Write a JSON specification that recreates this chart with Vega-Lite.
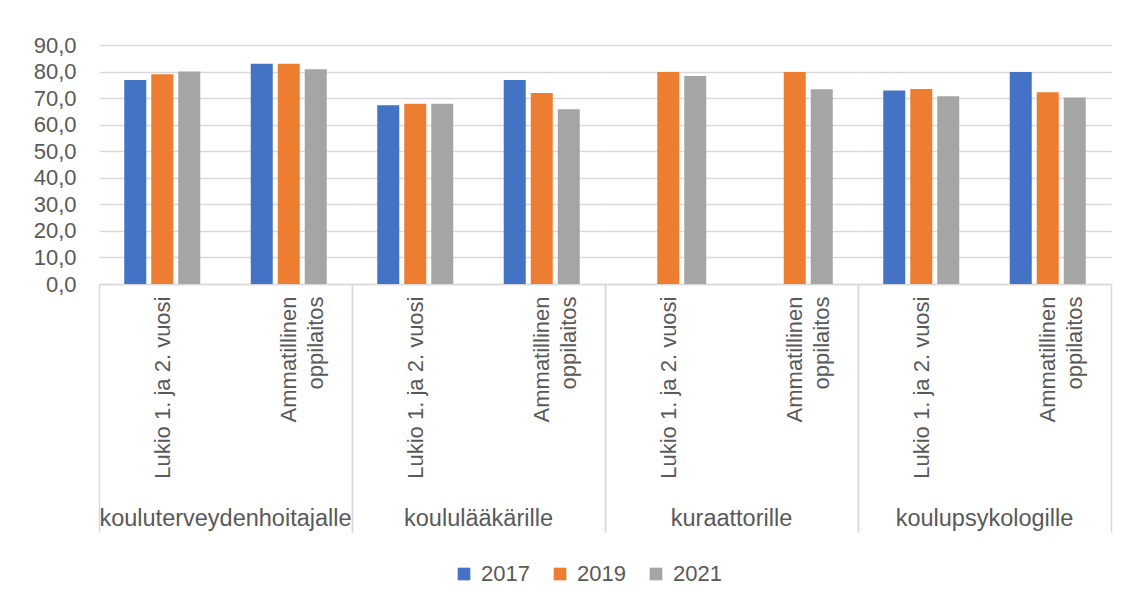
{
  "$schema": "https://vega.github.io/schema/vega-lite/v6.json",
  "padding": {"left": 33, "top": 34, "right": 14, "bottom": 10},
  "background": "white",
  "data": {"values": [
    {"group": "kouluterveydenhoitajalle", "sub": "Lukio 1. ja 2. vuosi", "year": "2017", "value": 76.8},
    {"group": "kouluterveydenhoitajalle", "sub": "Lukio 1. ja 2. vuosi", "year": "2019", "value": 79.0},
    {"group": "kouluterveydenhoitajalle", "sub": "Lukio 1. ja 2. vuosi", "year": "2021", "value": 80.0},
    {"group": "kouluterveydenhoitajalle", "sub": "Ammatillinen|oppilaitos", "year": "2017", "value": 82.9},
    {"group": "kouluterveydenhoitajalle", "sub": "Ammatillinen|oppilaitos", "year": "2019", "value": 82.9},
    {"group": "kouluterveydenhoitajalle", "sub": "Ammatillinen|oppilaitos", "year": "2021", "value": 80.9},
    {"group": "koululääkärille", "sub": "Lukio 1. ja 2. vuosi", "year": "2017", "value": 67.3},
    {"group": "koululääkärille", "sub": "Lukio 1. ja 2. vuosi", "year": "2019", "value": 67.9},
    {"group": "koululääkärille", "sub": "Lukio 1. ja 2. vuosi", "year": "2021", "value": 67.9},
    {"group": "koululääkärille", "sub": "Ammatillinen|oppilaitos", "year": "2017", "value": 76.8},
    {"group": "koululääkärille", "sub": "Ammatillinen|oppilaitos", "year": "2019", "value": 71.9},
    {"group": "koululääkärille", "sub": "Ammatillinen|oppilaitos", "year": "2021", "value": 65.8},
    {"group": "kuraattorille", "sub": "Lukio 1. ja 2. vuosi", "year": "2019", "value": 79.8},
    {"group": "kuraattorille", "sub": "Lukio 1. ja 2. vuosi", "year": "2021", "value": 78.3},
    {"group": "kuraattorille", "sub": "Ammatillinen|oppilaitos", "year": "2019", "value": 79.8},
    {"group": "kuraattorille", "sub": "Ammatillinen|oppilaitos", "year": "2021", "value": 73.3},
    {"group": "koulupsykologille", "sub": "Lukio 1. ja 2. vuosi", "year": "2017", "value": 72.9},
    {"group": "koulupsykologille", "sub": "Lukio 1. ja 2. vuosi", "year": "2019", "value": 73.4},
    {"group": "koulupsykologille", "sub": "Lukio 1. ja 2. vuosi", "year": "2021", "value": 70.7},
    {"group": "koulupsykologille", "sub": "Ammatillinen|oppilaitos", "year": "2017", "value": 79.8},
    {"group": "koulupsykologille", "sub": "Ammatillinen|oppilaitos", "year": "2019", "value": 72.2},
    {"group": "koulupsykologille", "sub": "Ammatillinen|oppilaitos", "year": "2021", "value": 70.2}
  ]},
  "facet": {
    "column": {
      "field": "group", "type": "nominal",
      "sort": ["kouluterveydenhoitajalle", "koululääkärille", "kuraattorille", "koulupsykologille"],
      "title": null,
      "header": {"labelOrient": "bottom", "labelFont": "Liberation Sans", "labelFontSize": 23.5, "labelColor": "#595959", "labelPadding": -26, "labelBaseline": "top"}
    }
  },
  "spacing": 0,
  "spec": {
    "width": 253,
    "height": 239,
    "mark": {"type": "bar"},
    "encoding": {
      "x": {
        "field": "sub", "type": "nominal",
        "sort": ["Lukio 1. ja 2. vuosi", "Ammatillinen|oppilaitos"],
        "scale": {"paddingInner": 0, "paddingOuter": 0},
        "axis": {
          "title": null, "labelAngle": -90, "labelAlign": "right", "labelBaseline": "middle",
          "labelPadding": -236, "labelFont": "Liberation Sans", "labelFontSize": 22, "labelColor": "#595959",
          "labelExpr": "split(datum.label, '|')", "labelLineHeight": 27, "labelLimit": 0,
          "tickBand": "extent", "tickSize": 248, "tickWidth": 1.5,
          "tickColor": {"condition": {"test": "datum.value === 'Lukio 1. ja 2. vuosi'", "value": "transparent"}, "value": "#d9d9d9"},
          "domainColor": "#d9d9d9", "domainWidth": 1.5
        }
      },
      "xOffset": {
        "field": "year", "type": "nominal",
        "scale": {"domain": ["2017", "2019", "2021"], "paddingInner": 0.185, "paddingOuter": 0.935}
      },
      "y": {
        "field": "value", "type": "quantitative",
        "scale": {"domain": [0, 90]},
        "axis": {
          "title": null, "values": [0, 10, 20, 30, 40, 50, 60, 70, 80, 90],
          "labelExpr": "replace(format(datum.value, '.1f'), '.', ',')",
          "domain": false, "ticks": false, "labelPadding": 23,
          "labelFont": "Liberation Sans", "labelFontSize": 22, "labelColor": "#595959",
          "gridColor": "#d9d9d9", "gridWidth": 1.5
        }
      },
      "color": {
        "field": "year", "type": "nominal",
        "scale": {"domain": ["2017", "2019", "2021"], "range": ["#4472C4", "#ED7D31", "#A5A5A5"]},
        "legend": {
          "title": null, "orient": "none", "legendX": 354, "legendY": 518, "direction": "horizontal", "symbolType": "square",
          "symbolSize": 160, "symbolStrokeWidth": 0, "labelFont": "Liberation Sans", "labelFontSize": 22,
          "labelColor": "#595959", "columnPadding": 19, "labelOffset": 6
        }
      }
    }
  },
  "config": {"view": {"stroke": null}}
}
